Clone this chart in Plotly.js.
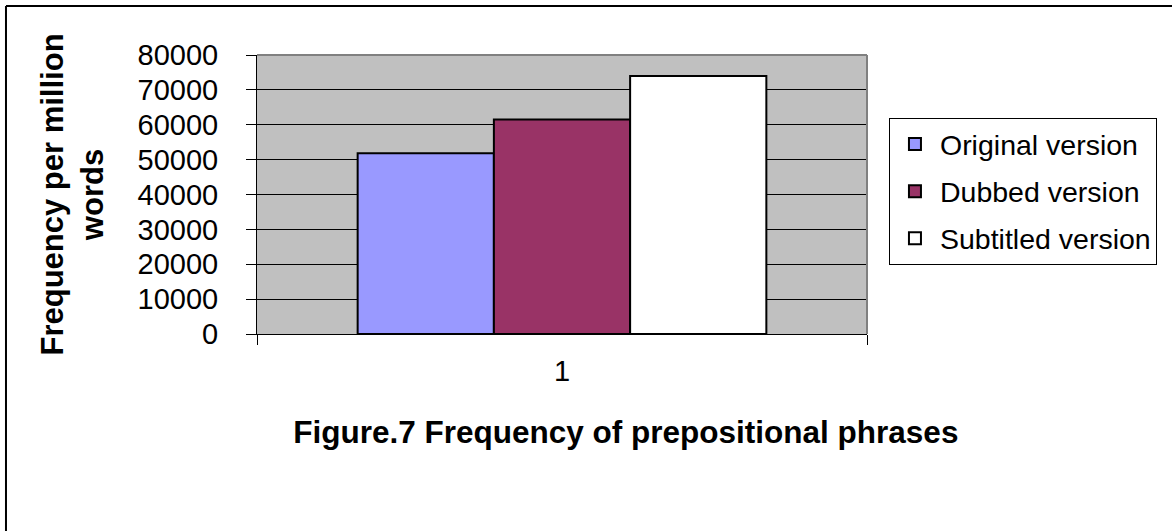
<!DOCTYPE html>
<html>
<head>
<meta charset="utf-8">
<script src="https://cdn.plot.ly/plotly-3.0.1.min.js"></script>
<style>
  html, body { margin: 0; padding: 0; background: #fff; }
  #chart { width: 1172px; height: 531px; }
</style>
</head>
<body>
<div id="chart"></div>
<script>
// Data
const categories = ["1"];
const seriesNames = ["Original version", "Dubbed version", "Subtitled version"];
const originalValues = [51800];
const dubbedValues = [61500];
const subtitledValues = [74000];
const seriesColors = ["#9999FF", "#993366", "#FFFFFF"];
const yTickValues = [0, 10000, 20000, 30000, 40000, 50000, 60000, 70000, 80000];

const FONT = "Liberation Sans, Arial, sans-serif";
const seriesValues = [originalValues, dubbedValues, subtitledValues];

const traces = seriesNames.map((name, i) => ({
  type: "bar",
  name: name,
  x: categories,
  y: seriesValues[i],
  legendgroup: "g" + i,
  marker: { color: seriesColors[i], line: { color: "#000000", width: 2 } },
  hoverinfo: "skip"
}));

const layout = {
  width: 1172,
  height: 531,
  margin: { l: 257, r: 305, t: 55, b: 197, pad: 0 },
  paper_bgcolor: "#FFFFFF",
  plot_bgcolor: "#C0C0C0",
  barmode: "group",
  bargap: 0.33,
  bargroupgap: 0,
  font: { family: FONT, color: "#000000", size: 29 },
  title: {
    text: "<b>Figure.7 Frequency of prepositional phrases</b>",
    font: { family: FONT, size: 31.5, color: "#000000" },
    xref: "container", yref: "container",
    x: 0.534, y: 0.186, xanchor: "center", yanchor: "middle"
  },
  xaxis: {
    type: "category",
    showgrid: false,
    showline: true, linecolor: "#000000", linewidth: 1,
    ticks: "outside", tickson: "boundaries", ticklen: 10, tickcolor: "#000000", tickwidth: 1,
    tickfont: { family: FONT, size: 29, color: "#000000" },
    ticklabelstandoff: 11,
    zeroline: false,
    fixedrange: true
  },
  yaxis: {
    range: [0, 80000],
    tickvals: yTickValues,
    ticktext: yTickValues.map(String),
    showgrid: true, gridcolor: "#000000", gridwidth: 1,
    showline: true, linecolor: "#000000", linewidth: 1,
    ticks: "outside", ticklen: 10, tickcolor: "#000000", tickwidth: 1,
    tickfont: { family: FONT, size: 29, color: "#000000" },
    ticklabelstandoff: 22,
    zeroline: false,
    title: {
      text: "<b>Frequency per million<br>words</b>",
      font: { family: FONT, size: 31, color: "#000000" },
      standoff: 24
    },
    fixedrange: true
  },
  legend: {
    x: 1.036, y: 0.774, xanchor: "left", yanchor: "top",
    xref: "paper", yref: "paper",
    bgcolor: "#FFFFFF", bordercolor: "#000000", borderwidth: 1,
    font: { family: FONT, size: 28.5, color: "#000000" },
    traceorder: "grouped",
    tracegroupgap: 7,
    itemwidth: 40
  },
  shapes: [
    // grey top and right edges of the plot area
    { type: "line", xref: "paper", yref: "paper", x0: 0, x1: 1, y0: 1, y1: 1,
      line: { color: "#808080", width: 2 }, layer: "above" },
    { type: "line", xref: "paper", yref: "paper", x0: 1, x1: 1, y0: 0, y1: 1,
      line: { color: "#808080", width: 2 }, layer: "above" },
    // outer chart frame (left and top edges visible)
    { type: "line", xref: "paper", yref: "paper", x0: -0.4115, x1: -0.4115, y0: -0.72, y1: 1.1756,
      line: { color: "#000000", width: 2 }, layer: "above" },
    { type: "line", xref: "paper", yref: "paper", x0: -0.4115, x1: 1.51, y0: 1.1756, y1: 1.1756,
      line: { color: "#000000", width: 2 }, layer: "above" }
  ],
  showlegend: true
};

Plotly.newPlot("chart", traces, layout, { displayModeBar: false, staticPlot: true });
</script>
</body>
</html>
